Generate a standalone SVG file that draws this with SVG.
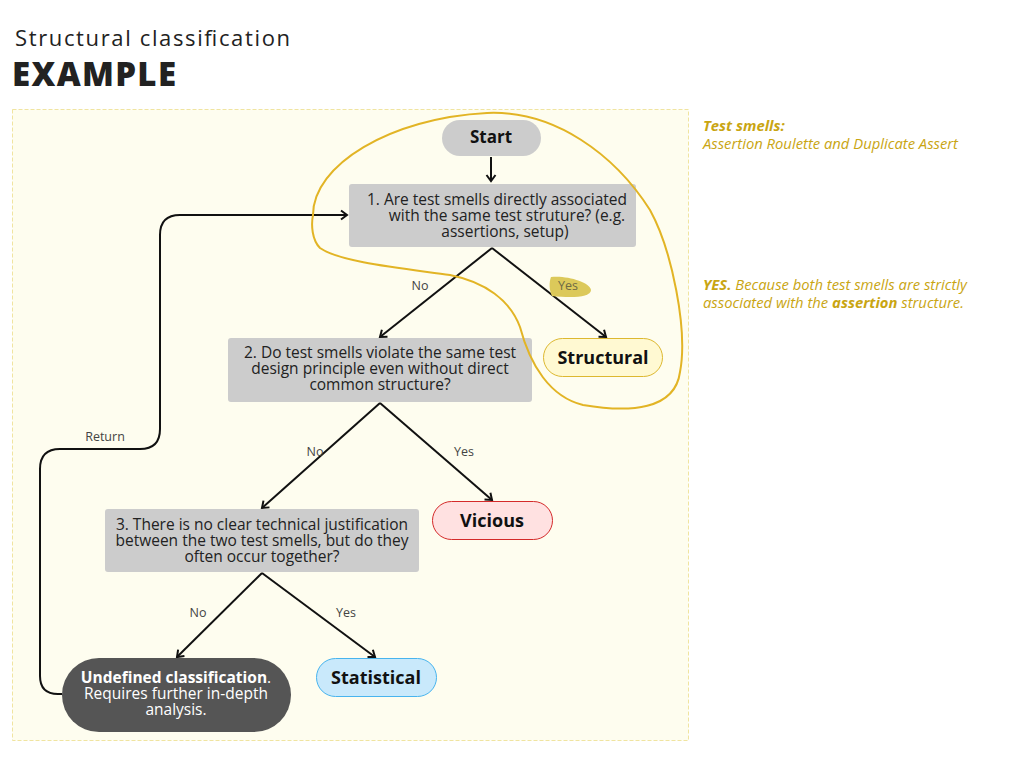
<svg xmlns="http://www.w3.org/2000/svg" width="1024" height="768" viewBox="0 0 1024 768">
<defs>
<marker id="arr" markerUnits="userSpaceOnUse" markerWidth="14" markerHeight="14" refX="11" refY="7" orient="auto">
<path d="M5,2.5 L11,7 L5,11.5" fill="none" stroke="#111" stroke-width="2" stroke-linejoin="miter"/>
</marker>
<style>
.q{fill:#CCCCCC}
.qt{font-family:"Open Sans","Noto Sans",sans-serif;font-size:15.5px;fill:#222;text-anchor:middle}
.lbl{font-family:"Open Sans","Noto Sans",sans-serif;font-size:12.5px;fill:#444;text-anchor:middle}
.bt{font-family:"Open Sans","Noto Sans",sans-serif;font-size:18px;font-weight:700;fill:#111;text-anchor:middle}
.con{fill:none;stroke:#111;stroke-width:2}
.note{font-family:"Open Sans","Noto Sans",sans-serif;font-size:14.8px;font-style:italic;fill:#C9A512}
</style>
</defs>
<rect width="1024" height="768" fill="#FFFFFF"/>
<text x="15" y="46" font-family="'Open Sans',sans-serif" font-size="22" fill="#222" textLength="275">Structural classification</text>
<text x="12" y="86" font-family="'Open Sans',sans-serif" font-size="33" font-weight="800" fill="#222" textLength="164">EXAMPLE</text>
<rect id="panel" x="12.5" y="109.5" width="676" height="631" fill="#FEFDEF" stroke="#F0E4A0" stroke-width="1" stroke-dasharray="4,2"/>

<g id="connectors">
<path class="con" d="M491 157 V181" marker-end="url(#arr)"/>
<path class="con" d="M492 248 L380 337" marker-end="url(#arr)"/>
<path class="con" d="M492 248 L606 337" marker-end="url(#arr)"/>
<path class="con" d="M380 403 L262 508" marker-end="url(#arr)"/>
<path class="con" d="M380 403 L492 500" marker-end="url(#arr)"/>
<path class="con" d="M262 573 L177 657" marker-end="url(#arr)"/>
<path class="con" d="M262 573 L375 657" marker-end="url(#arr)"/>
<path class="con" d="M62 694 H58 Q40 694 40 676 V469 Q40 449 60 449 H140 Q160 449 160 429 V235 Q160 215 180 215 H347" marker-end="url(#arr)"/>
<text class="lbl" x="420" y="290">No</text>
<path d="M551 277 C566 275 590 282 591 290 C591 298 570 298 552 296 C549 290 549 282 551 277 Z" fill="#DCC95A"/>
<text class="lbl" x="568" y="290" style="fill:#6E6A44">Yes</text>
<text class="lbl" x="315" y="456">No</text>
<text class="lbl" x="464" y="456">Yes</text>
<text class="lbl" x="198" y="617">No</text>
<text class="lbl" x="346" y="617">Yes</text>
<text class="lbl" x="105" y="441">Return</text>
</g>

<g id="start">
<rect x="442" y="120" width="99" height="36" rx="18" class="q"/>
<text class="bt" x="491" y="143" style="font-size:17px">Start</text>
</g>
<g id="q1">
<rect x="349" y="184" width="287" height="63" rx="3" class="q"/>
<text class="qt" x="497" y="205">1. Are test smells directly associated</text>
<text class="qt" x="507" y="221">with the same test struture? (e.g.</text>
<text class="qt" x="505" y="237">assertions, setup)</text>
</g>
<g id="q2">
<rect x="228" y="338" width="304" height="64" rx="3" class="q"/>
<text class="qt" x="380" y="358">2. Do test smells violate the same test</text>
<text class="qt" x="380" y="374">design principle even without direct</text>
<text class="qt" x="380" y="390">common structure?</text>
</g>
<g id="q3">
<rect x="105" y="509" width="314" height="63" rx="3" class="q"/>
<text class="qt" x="262" y="530">3. There is no clear technical justification</text>
<text class="qt" x="262" y="546">between the two test smells, but do they</text>
<text class="qt" x="262" y="562">often occur together?</text>
</g>
<g id="structural">
<rect x="543.5" y="338.5" width="119" height="38" rx="19" fill="#FFF9D2" stroke="#DDB830" stroke-width="1"/>
<text class="bt" x="603" y="364">Structural</text>
</g>
<g id="vicious">
<rect x="432.5" y="501.5" width="120" height="38" rx="19" fill="#FFE1E1" stroke="#D42A2A" stroke-width="1"/>
<text class="bt" x="492" y="527">Vicious</text>
</g>
<g id="statistical">
<rect x="316.5" y="658.5" width="120" height="38" rx="19" fill="#C9E9FB" stroke="#48B4EE" stroke-width="1"/>
<text class="bt" x="376" y="684">Statistical</text>
</g>
<g id="undefined">
<rect x="62" y="658" width="229" height="74" rx="37" fill="#555555"/>
<text class="qt" x="176" y="683" style="fill:#fff"><tspan font-weight="700">Undefined classification</tspan>.</text>
<text class="qt" x="176" y="699" style="fill:#fff">Requires further in-depth</text>
<text class="qt" x="176" y="715" style="fill:#fff">analysis.</text>
</g>

<path id="lasso" d="M313 215 C313 165 390 118 487 113 C555 110 615 155 650 210 C672 250 688 330 680 372 C675 410 630 413 583 405 C550 397 530 365 520 327 C510 300 485 282 450 275 C400 268 340 262 320 248 C312 240 311 225 313 215 Z" fill="none" stroke="#E2B425" stroke-width="2"/>

<g id="notes">
<text class="note" x="703" y="131" font-weight="700">Test smells:</text>
<text class="note" x="703" y="149">Assertion Roulette and Duplicate Assert</text>
<text class="note" x="703" y="290"><tspan font-weight="700">YES.</tspan> Because both test smells are strictly</text>
<text class="note" x="703" y="308">associated with the <tspan font-weight="700">assertion</tspan> structure.</text>
</g>
</svg>
